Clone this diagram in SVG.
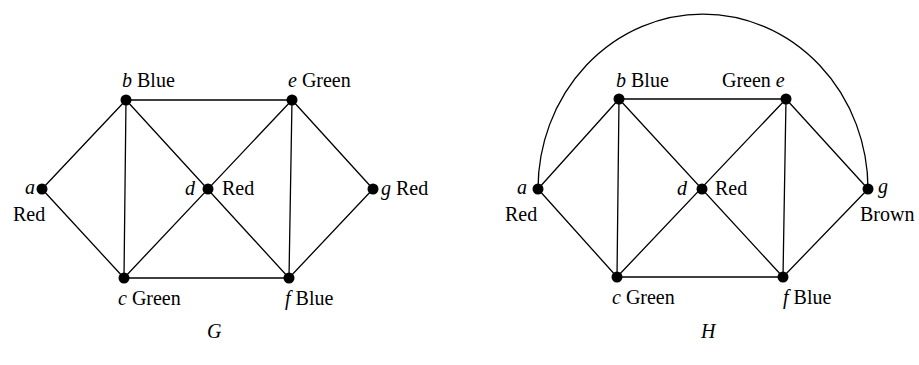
<svg xmlns="http://www.w3.org/2000/svg" width="919" height="365" viewBox="0 0 919 365">
<style>
text{font-family:"Liberation Serif","Times New Roman",serif;font-size:20px;fill:#000}
.i{font-style:italic}
.e{stroke:#000;stroke-width:1.3;fill:none}
.n{fill:#000}
</style>
<rect width="919" height="365" fill="#fff"/>
<g id="connectors-G">
<path class="e" d="M42,189L126,100M42,189L124,278M126,100L292,100M126,100L124,278M126,100L289,278M124,278L292,100M124,278L289,278M292,100L289,278M292,100L373,189M289,278L373,189"/>
</g>
<g id="connectors-H">
<path class="e" d="M538,189L619,99M538,189L617,277M619,99L786,99M619,99L617,277M619,99L783,277M617,277L786,99M617,277L783,277M786,99L783,277M786,99L868,189M783,277L868,189"/>
<path class="e" d="M538,189A165,175 0 0 1 868,189"/>
</g>
<g id="G-a"><circle class="n" cx="42" cy="189" r="5.5"/><text class="i" x="25" y="194">a</text><text x="13" y="221">Red</text></g>
<g id="G-b"><circle class="n" cx="126" cy="100" r="5.5"/><text x="122" y="87"><tspan class="i">b</tspan> Blue</text></g>
<g id="G-c"><circle class="n" cx="124" cy="278" r="5.5"/><text x="118" y="305"><tspan class="i">c</tspan> Green</text></g>
<g id="G-d"><circle class="n" cx="208" cy="189" r="5.5"/><text class="i" x="185" y="195">d</text><text x="222" y="195">Red</text></g>
<g id="G-e"><circle class="n" cx="292" cy="100" r="5.5"/><text x="288" y="87"><tspan class="i">e</tspan> Green</text></g>
<g id="G-f"><circle class="n" cx="289" cy="278" r="5.5"/><text x="285" y="305"><tspan class="i">f</tspan> Blue</text></g>
<g id="G-g"><circle class="n" cx="373" cy="189" r="5.5"/><text x="381" y="195"><tspan class="i">g</tspan> Red</text></g>
<g id="H-a"><circle class="n" cx="538" cy="189" r="5.5"/><text class="i" x="517" y="194">a</text><text x="505" y="221">Red</text></g>
<g id="H-b"><circle class="n" cx="619" cy="99" r="5.5"/><text x="616" y="87"><tspan class="i">b</tspan> Blue</text></g>
<g id="H-c"><circle class="n" cx="617" cy="277" r="5.5"/><text x="612" y="304"><tspan class="i">c</tspan> Green</text></g>
<g id="H-d"><circle class="n" cx="702" cy="189" r="5.5"/><text class="i" x="677" y="195">d</text><text x="715" y="195">Red</text></g>
<g id="H-e"><circle class="n" cx="786" cy="99" r="5.5"/><text x="722" y="87">Green <tspan class="i">e</tspan></text></g>
<g id="H-f"><circle class="n" cx="783" cy="277" r="5.5"/><text x="783" y="304"><tspan class="i">f</tspan> Blue</text></g>
<g id="H-g"><circle class="n" cx="868" cy="189" r="5.5"/><text class="i" x="878" y="193">g</text><text x="860" y="221">Brown</text></g>
<text class="i" x="207" y="338">G</text>
<text class="i" x="701" y="338">H</text>
</svg>
